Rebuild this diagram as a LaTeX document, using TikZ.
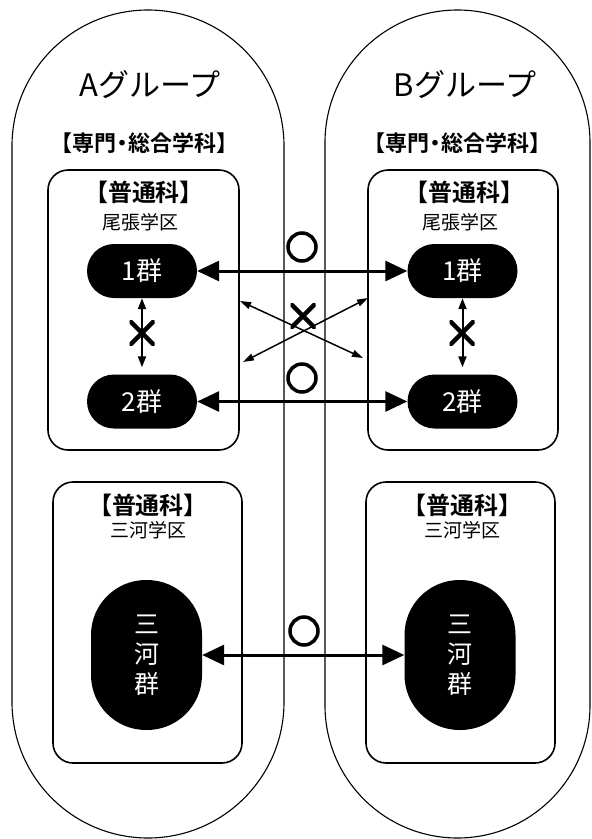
\documentclass[tikz,border=0pt]{standalone}
\usepackage{fontspec}
\setmainfont{Noto Sans CJK JP}[BoldFont={Noto Sans CJK JP Bold}]
\usetikzlibrary{arrows.meta}
\begin{document}
\begin{tikzpicture}[x=1pt,y=-1pt,
  capsule/.style={draw, line width=1.1pt},
  box/.style={draw, line width=1.6pt, rounded corners=20pt, inner sep=0pt},
  pill/.style={fill=black, text=white, rounded corners=27pt, minimum width=110pt, minimum height=54pt, inner sep=0pt, font=\fontsize{26}{30}\selectfont},
  tallpill/.style={fill=black, text=white, rounded corners=55pt, minimum width=111pt, minimum height=150pt, inner sep=0pt, align=center, font=\fontsize{25}{30}\selectfont},
  grouptitle/.style={font=\fontsize{31}{34}\selectfont},
  subtitle/.style={font=\bfseries\fontsize{22}{24}\selectfont},
  futsu/.style={font=\bfseries\fontsize{24}{26}\selectfont},
  gakku/.style={font=\fontsize{19}{21}\selectfont},
  okmark/.style={draw, circle, line width=3.5pt, minimum size=28pt, inner sep=0pt},
  ngmark/.style={minimum size=25pt, inner sep=0pt, path picture={
      \draw[line width=4.5pt] (path picture bounding box.north west) -- (path picture bounding box.south east)
                            (path picture bounding box.north east) -- (path picture bounding box.south west);}},
  bigarrow/.style={line width=3pt, {Triangle[length=22pt,width=20pt]}-{Triangle[length=22pt,width=20pt]}},
  thinarrow/.style={line width=1.5pt, {Triangle[length=11pt,width=7pt]}-{Triangle[length=11pt,width=7pt]}},
  vertarrow/.style={line width=2pt, {Triangle[length=11pt,width=8pt]}-{Triangle[length=11pt,width=8pt]}}
]
\useasboundingbox (0,0) rectangle (592,839);
% group capsules
\draw[capsule, rounded corners=136pt] (12,10) rectangle (284,838);
\draw[capsule, rounded corners=132.5pt] (325,10) rectangle (590,838);
% titles
\node[grouptitle] (atitle) at (150,85) {Aグループ};
\node[grouptitle] (btitle) at (465,85) {Bグループ};
\node[subtitle] (asub) at (144,143) {【専門\kern-5pt・\kern-5pt総合学科】};
\node[subtitle] (bsub) at (457,143) {【専門\kern-5pt・\kern-5pt総合学科】};
% boxes
\node[box, minimum width=191pt, minimum height=280pt] (abox1) at (143.5,310) {};
\node[box, minimum width=190pt, minimum height=280pt] (bbox1) at (463,310) {};
\node[box, minimum width=189pt, minimum height=281pt] (abox2) at (147.5,622.5) {};
\node[box, minimum width=189pt, minimum height=281pt] (bbox2) at (460.5,622.5) {};
% box labels
\node[futsu] (af1) at (144,192) {【普通科】};
\node[gakku] (ag1) at (140,222) {尾張学区};
\node[futsu] (bf1) at (464,192) {【普通科】};
\node[gakku] (bg1) at (460,222) {尾張学区};
\node[futsu] (af2) at (148,505) {【普通科】};
\node[gakku] (ag2) at (148,530) {三河学区};
\node[futsu] (bf2) at (462,505) {【普通科】};
\node[gakku] (bg2) at (462,530) {三河学区};
% pills
\node[pill] (a1) at (142,271) {1群};
\node[pill] (a2) at (142,401.5) {2群};
\node[pill] (b1) at (462.5,271) {1群};
\node[pill] (b2) at (462.5,401.5) {2群};
\node[tallpill] (am) at (146.5,655) {三\\河\\群};
\node[tallpill] (bm) at (460,655) {三\\河\\群};
% connectors
\draw[bigarrow] (a1) -- (b1);
\draw[bigarrow] (a2) -- (b2);
\draw[bigarrow] (am) -- (bm);
\draw[vertarrow, shorten >=7pt] (a1) -- (a2);
\draw[vertarrow, shorten >=7pt] (b1) -- (b2);
\coordinate (c1s) at (240,301);
\coordinate (c1e) at (363,358);
\coordinate (c2s) at (243,362);
\coordinate (c2e) at (368,298);
\draw[thinarrow] (c1s) -- (c1e);
\draw[thinarrow] (c2s) -- (c2e);
% marks
\node[okmark] (ok1) at (302,247) {};
\node[okmark] (ok2) at (302,378) {};
\node[okmark] (ok3) at (304,631) {};
\node[ngmark] (ng1) at (303,316) {};
\node[ngmark] (ng2) at (142,333) {};
\node[ngmark] (ng3) at (462,333) {};
\end{tikzpicture}
\end{document}
